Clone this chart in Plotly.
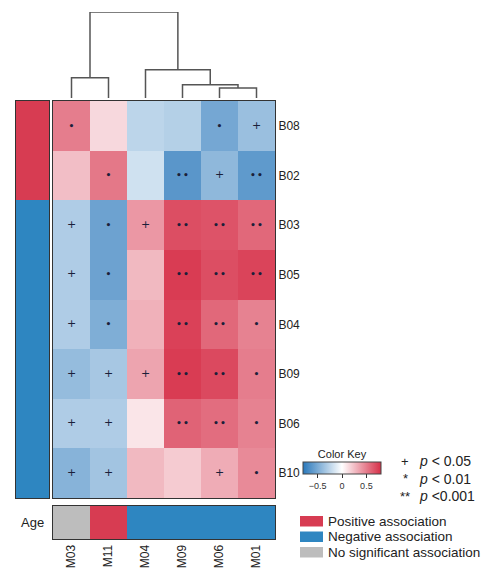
import plotly.graph_objects as go

# ---------------- data ----------------
columns = ["M03", "M11", "M04", "M09", "M06", "M01"]
rows = ["B08", "B02", "B03", "B05", "B04", "B09", "B06", "B10"]

values = [
    [0.50, 0.15, -0.25, -0.28, -0.52, -0.38],   # B08
    [0.25, 0.52, -0.18, -0.62, -0.42, -0.60],   # B02
    [-0.30, -0.55, 0.40, 0.68, 0.66, 0.58],     # B03
    [-0.30, -0.55, 0.27, 0.75, 0.68, 0.72],     # B05
    [-0.30, -0.48, 0.30, 0.73, 0.58, 0.48],     # B04
    [-0.40, -0.33, 0.35, 0.75, 0.70, 0.50],     # B09
    [-0.30, -0.30, 0.10, 0.60, 0.56, 0.48],     # B06
    [-0.45, -0.35, 0.27, 0.20, 0.32, 0.45],     # B10
]

signif = [
    ["*", "", "", "", "*", "+"],
    ["", "*", "", "**", "+", "**"],
    ["+", "*", "+", "**", "**", "**"],
    ["+", "*", "", "**", "**", "**"],
    ["+", "*", "", "**", "**", "*"],
    ["+", "+", "+", "**", "**", "*"],
    ["+", "+", "", "**", "**", "*"],
    ["+", "+", "", "", "+", "*"],
]

row_assoc = ["Positive", "Positive", "Negative", "Negative", "Negative", "Negative", "Negative", "Negative"]
age_assoc = ["None", "Positive", "Negative", "Negative", "Negative", "Negative"]

# column dendrogram merges: (left, right, height); ints = leaf index, "cN" = cluster N
merges = [
    (4, 5, 10),        # c0: M06 + M01
    (3, "c0", 13),     # c1
    (0, 1, 20),        # c2: M03 + M11
    (2, "c1", 28),     # c3
    ("c2", "c3", 85),  # c4
]

sig_labels = ["+", "*", "**"]
sig_texts = ["p < 0.05", "p < 0.01", "p <0.001"]
assoc_labels = ["Positive association", "Negative association", "No significant association"]

# ---------------- styling ----------------
W, H = 499, 573
OFF = 8  # default page body margin
FW, FH = W - OFF, H - OFF
def px(x): return (x - OFF) / FW
def py(y): return 1 - (y - OFF) / FH

RED = "#d73c52"
BLUE = "#2e86c1"
GRAY = "#bdbdbd"
assoc_code = {"None": 0, "Positive": 1, "Negative": 2}
disc_scale = [[0, GRAY], [0.3333, GRAY], [0.3334, RED], [0.6666, RED], [0.6667, BLUE], [1, BLUE]]
FONT = "Liberation Sans, Arial, sans-serif"

fig = go.Figure()

# main heatmap
fig.add_trace(go.Heatmap(
    z=values, x=list(range(len(columns))), y=list(range(len(rows))),
    zmin=-0.8, zmax=0.8,
    colorscale=[[0, "#2a78bb"], [0.5, "#ffffff"], [1, "#d62f48"]],
    showscale=True,
    colorbar=dict(
        orientation="h", x=px(342), xanchor="center", y=py(450), yanchor="top",
        len=78, lenmode="pixels", thickness=12, thicknessmode="pixels",
        outlinewidth=1, outlinecolor="#444",
        ticks="outside", ticklen=4, tickwidth=1, tickcolor="#333",
        tickvals=[-0.5, 0, 0.5], ticktext=["\u22120.5", "0", "0.5"],
        tickfont=dict(size=9, color="#333", family=FONT),
        title=dict(text="Color Key", side="top", font=dict(size=11, color="#222", family=FONT)),
        xpad=0, ypad=0,
    ),
    hoverinfo="skip", xaxis="x", yaxis="y",
))

# significance marks
sx, sy, st = [], [], []
for i, r in enumerate(signif):
    for j, s in enumerate(r):
        if s:
            sx.append(j); sy.append(i)
            st.append(s.replace("*", "\u2219"))
fig.add_trace(go.Scatter(
    x=sx, y=sy, text=st, mode="text",
    textfont=dict(size=11, color="#1b1f3a", family="DejaVu Sans"),
    textposition="middle center", hoverinfo="skip", showlegend=False,
    xaxis="x", yaxis="y",
))

# dendrogram
pos = {}
hgt = {}
for j in range(len(columns)):
    pos[j] = j; hgt[j] = 0
dx, dy = [], []
for k, (a, b, h) in enumerate(merges):
    xa, xb = pos[a], pos[b]
    dx += [xa, xa, xb, xb, None]
    dy += [hgt[a], h, h, hgt[b], None]
    pos["c%d" % k] = (xa + xb) / 2
    hgt["c%d" % k] = h
fig.add_trace(go.Scatter(
    x=dx, y=dy, mode="lines", line=dict(color="#555555", width=1.5),
    hoverinfo="skip", showlegend=False, xaxis="x2", yaxis="y2",
))

# left row annotation
fig.add_trace(go.Heatmap(
    z=[[assoc_code[a]] for a in row_assoc], x=[0], y=list(range(len(rows))),
    zmin=0, zmax=2, colorscale=disc_scale, showscale=False,
    hoverinfo="skip", xaxis="x4", yaxis="y4",
))

# Age annotation bar
fig.add_trace(go.Heatmap(
    z=[[assoc_code[a] for a in age_assoc]], x=list(range(len(columns))), y=[0],
    zmin=0, zmax=2, colorscale=disc_scale, showscale=False,
    hoverinfo="skip", xaxis="x3", yaxis="y3",
))

border = dict(showline=True, mirror=True, linecolor="#333", linewidth=1, automargin=False)
hm_x = [px(53), px(275)]

fig.update_layout(
    width=FW, height=FH, margin=dict(l=0, r=0, t=0, b=0, autoexpand=False),
    paper_bgcolor="white", plot_bgcolor="white", showlegend=False,
    font=dict(family=FONT, color="#222"),
    xaxis=dict(domain=hm_x, range=[-0.5, 5.5], showticklabels=False, ticks="",
               showgrid=False, zeroline=False, **border),
    yaxis=dict(domain=[py(498), py(101)], range=[7.5, -0.5], side="right",
               tickvals=list(range(len(rows))), ticktext=rows, ticks="",
               tickfont=dict(size=12, color="#222"), showgrid=False, zeroline=False,
               anchor="x", **border),
    xaxis2=dict(domain=hm_x, range=[-0.5, 5.5], visible=False, anchor="y2"),
    yaxis2=dict(domain=[py(98), py(12)], range=[0, 85], visible=False, anchor="x2"),
    xaxis3=dict(domain=hm_x, range=[-0.5, 5.5], tickvals=list(range(len(columns))),
                ticktext=columns, tickangle=-90, ticks="", tickfont=dict(size=12, color="#222"),
                showgrid=False, zeroline=False, anchor="y3", **border),
    yaxis3=dict(domain=[py(539), py(506)], range=[-0.5, 0.5], showticklabels=False,
                ticks="", showgrid=False, zeroline=False, anchor="x3", **border),
    xaxis4=dict(domain=[px(16), px(49)], range=[-0.5, 0.5], showticklabels=False, ticks="",
                showgrid=False, zeroline=False, anchor="y4", **border),
    yaxis4=dict(domain=[py(498), py(101)], range=[7.5, -0.5], showticklabels=False, ticks="",
                showgrid=False, zeroline=False, anchor="x4", **border),
)

# "Age" label
fig.add_annotation(text="Age", x=px(32), y=py(522), xref="paper", yref="paper",
                   showarrow=False, font=dict(size=13, color="#222"), xanchor="center", yanchor="middle")

# significance legend
for k, (lab, txt) in enumerate(zip(sig_labels, sig_texts)):
    yy = py(461 + k * 17.5)
    fig.add_annotation(text=lab, x=px(405), y=yy, xref="paper", yref="paper", showarrow=False,
                       font=dict(size=13, color="#222"), xanchor="center", yanchor="middle")
    parts = txt.split(" ", 1)
    fig.add_annotation(text="<i>" + parts[0] + "</i> " + parts[1], x=px(417), y=yy,
                       xref="paper", yref="paper", showarrow=False,
                       font=dict(size=14, color="#222"), xanchor="left", yanchor="middle")

# association legend
for k, (lab, col) in enumerate(zip(assoc_labels, [RED, BLUE, GRAY])):
    y0 = 516 + k * 15.5
    fig.add_shape(type="rect", xref="paper", yref="paper", x0=px(300), x1=px(323),
                  y0=py(y0 + 10.5), y1=py(y0), fillcolor=col, line=dict(width=0))
    fig.add_annotation(text=lab, x=px(326), y=py(y0 + 5), xref="paper", yref="paper",
                       showarrow=False, font=dict(size=13.5, color="#222"),
                       xanchor="left", yanchor="middle")

fig.write_html("out.html")
